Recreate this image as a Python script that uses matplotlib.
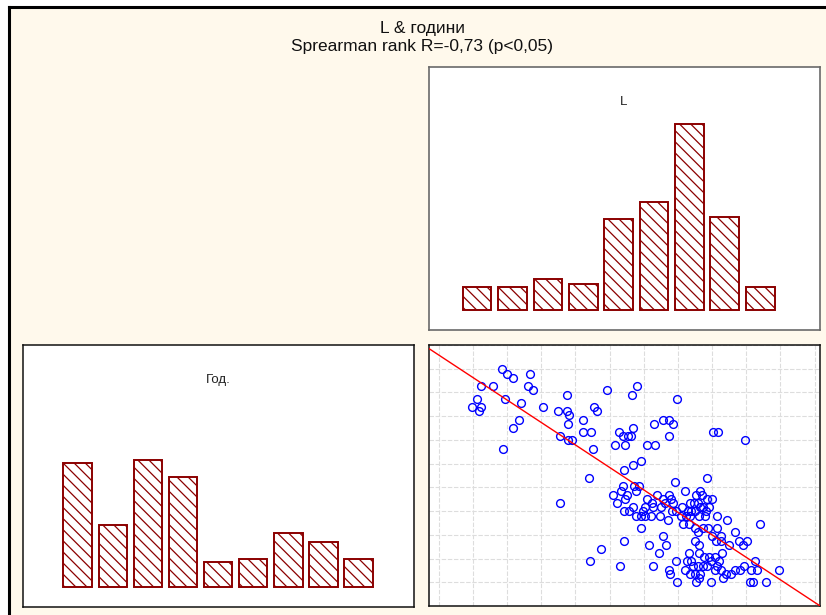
import numpy as np
import matplotlib
matplotlib.use("Agg")
import matplotlib.pyplot as plt
from matplotlib.lines import Line2D
from matplotlib.patches import Rectangle

plt.rcParams['font.family'] = ['Liberation Sans', 'DejaVu Sans']
plt.rcParams['hatch.linewidth'] = 0.9

# ---- data -------------------------------------------------------------
title_main = "L & години"
title_sub = "Sprearman rank R=-0,73 (p<0,05)"
label_L = "L"
label_years = "Год."

# histogram counts (9 bins each)
L_counts = [8, 8, 11, 9, 32, 38, 66, 33, 8]
years_counts = [44, 22, 45, 39, 9, 10, 19, 16, 10]

# paired observations: L value and age in years
L_values = [
    22.2, 23.8, 25.4, 30.6, 16.0, 19.6, 30.0, 31.6, 14.6, 23.0,
    13.2, 15.8, 15.2, 28.0, 34.4, 39.0, 41.8, 41.8, 42.2, 42.0,
    27.2, 25.4, 46.6, 49.8, 50.8, 53.6, 39.6, 42.0, 43.2, 46.6,
    48.8, 49.6, 22.5, 57.2, 58.6, 60.0, 60.8, 56.0, 59.2, 61.6,
    62.8, 61.2, 74.6, 67.8, 70.4, 72.2, 73.6, 72.4, 65.6, 68.0,
    85.6, 87.0, 95.0, 64.0, 61.4, 58.8, 48.4, 83.8, 74.2,
    39.6, 55.4, 56.6, 51.8, 48.6, 57.6, 58.4, 61.9, 63.3, 58.0,
    62.4, 59.6, 68.8, 72.4, 77.2, 80.4, 81.6, 82.2, 83.6, 85.2,
    59.0, 65.8, 70.4, 72.8, 67.2, 71.2, 73.6, 78.6, 79.8, 81.0,
    65.2, 67.6, 69.8, 76.2, 81.6, 82.6, 84.2, 61.4, 58.8, 60.2,
    64.4, 73.2, 74.4, 78.0, 79.0, 80.0, 83.4, 62.4, 63.8, 65.0,
    66.8, 69.6, 76.0, 77.4, 78.6, 81.4, 83.2, 86.6, 72.0, 89.8,
    76.6, 78.2, 99.6, 63.8, 80.0, 82.4, 84.0, 86.6, 81.0, 92.2,
    70.6, 85.2, 87.8, 58.8, 80.2, 86.4, 88.0, 93.4, 95.8, 66.4,
    71.4, 81.4, 90.2, 94.6, 69.2, 78.4, 81.4, 88.2, 82.8, 84.4,
    86.0, 74.4, 77.6, 78.8, 85.0, 87.2, 98.0, 67.4, 79.6, 81.0,
    82.4, 83.6, 86.6, 94.8, 72.2, 77.0, 86.0, 88.0, 92.0, 93.6,
    96.8, 98.6, 105.2, 72.6, 78.6, 80.0, 81.6, 89.4, 91.0, 81.2,
    88.4, 74.6, 80.4, 84.8, 96.6, 97.4, 101.4,
]
years_values = [
    69, 68, 67, 68, 65, 65, 65, 64, 62, 62,
    60, 60, 59, 61, 60, 59, 63, 59, 58, 56,
    57, 55, 57, 60, 59, 64, 53, 52, 52, 54,
    54, 50, 50, 54, 53, 53, 53, 51, 51, 55,
    65, 63, 62, 56, 57, 57, 56, 53, 51, 51,
    54, 54, 52, 47, 46, 45, 43, 43, 42,
    37, 39, 37, 26, 23, 22, 41, 41, 41, 40,
    40, 39, 39, 39, 40, 39, 40, 39, 38, 38,
    38, 38, 38, 38, 37, 37, 37, 37, 37, 37,
    36, 36, 36, 36, 36, 36, 36, 36, 35, 35,
    35, 35, 35, 35, 35, 35, 35, 34, 34, 34,
    34, 34, 34, 34, 34, 34, 34, 34, 33, 33,
    32, 32, 32, 31, 31, 31, 31, 31, 30, 30,
    29, 29, 29, 28, 28, 28, 28, 28, 28, 27,
    27, 27, 27, 27, 25, 25, 25, 25, 24, 24,
    24, 23, 23, 23, 23, 23, 23, 22, 22, 22,
    22, 22, 22, 22, 21, 21, 21, 21, 21, 21,
    21, 21, 21, 20, 20, 20, 20, 20, 20, 19,
    19, 18, 18, 18, 18, 18, 18,
]

# ---- figure -----------------------------------------------------------
W, H = 826, 615
fig = plt.figure(figsize=(W / 100, H / 100), dpi=100, facecolor='white')

def box(x0, y0, x1, y1):
    """Pixel box (top-left origin) -> figure fraction rect."""
    return [x0 / W, 1 - y1 / H, (x1 - x0) / W, (y1 - y0) / H]

cream = '#FFF9EC'
fig.patches.append(Rectangle((9 / W, 0), 1, 1 - 7 / H, transform=fig.transFigure,
                             facecolor=cream, edgecolor='none', zorder=-10))
fig.lines.append(Line2D([9 / W, 1], [1 - 7 / H, 1 - 7 / H], transform=fig.transFigure,
                        color='black', lw=2.2, zorder=-5))
fig.lines.append(Line2D([9 / W, 9 / W], [0, 1 - 7 / H], transform=fig.transFigure,
                        color='black', lw=2.2, zorder=-5))

fig.text(422 / W, 1 - 28 / H, title_main, ha='center', va='center', fontsize=12.5,
         color='#111111')
fig.text(422 / W, 1 - 47 / H, title_sub, ha='center', va='center', fontsize=12.5,
         color='#111111')

bar_color = '#8B0000'

def histogram(ax, counts, xlim, label, label_xy):
    pos = np.arange(len(counts))
    ax.bar(pos, counts, width=0.81, color='white', edgecolor=bar_color,
           hatch='\\\\\\', linewidth=1.4)
    ax.set_xlim(*xlim)
    ax.set_ylim(-7.1, 86.1)
    ax.set_xticks([])
    ax.set_yticks([])
    ax.set_facecolor('white')
    ax.text(*label_xy, label, transform=ax.transAxes, ha='center', va='center',
            fontsize=9.5, color='#222222')

# L histogram (top right)
ax_L = fig.add_axes(box(428.5, 67, 820, 329.5))
histogram(ax_L, L_counts, (-1.374, 9.69), label_L,
          ((624 - 428.5) / 391.5, 1 - (102 - 67) / 262.5))
for s in ax_L.spines.values():
    s.set_color('#6A6A6A'); s.set_linewidth(1.2)

# years histogram (bottom left)
ax_Y = fig.add_axes(box(22.5, 344.5, 414, 607))
histogram(ax_Y, years_counts, (-1.573, 9.58), label_years,
          ((218 - 22.5) / 391.5, 1 - (379.5 - 344.5) / 262.5))
for s in ax_Y.spines.values():
    s.set_color('#111111'); s.set_linewidth(1.1)

# scatter (bottom right)
ax_S = fig.add_axes(box(428.5, 345, 820, 606))
ax_S.set_facecolor('white')
xlo, xhi = 0.15, 117.6
ylo, yhi = 12.33, 74.87
ax_S.set_xlim(xlo, xhi)
ax_S.set_ylim(ylo, yhi)
ax_S.set_xticks(np.arange(3.2, xhi, 10.25))
ax_S.set_yticks(np.linspace(ylo, yhi, 12))
ax_S.tick_params(length=0, labelbottom=False, labelleft=False)
ax_S.grid(True, color='#DDDDDD', lw=0.8, ls=(0, (4, 1.5)))
ax_S.set_axisbelow(True)

L_arr = np.asarray(L_values)
Y_arr = np.asarray(years_values)
ax_S.plot(L_arr, Y_arr, 'o', ls='none', mfc='none', mec='#0000FF', ms=5.6, mew=1.0,
          zorder=3)
slope, intercept = np.polyfit(L_arr, Y_arr, 1)
xs = np.array([xlo, xhi])
ax_S.plot(xs, intercept + slope * xs, color='#FF0000', lw=1.0, zorder=4)
for s in ax_S.spines.values():
    s.set_color('#111111'); s.set_linewidth(1.1)

fig.savefig('out.png', dpi=100, facecolor=fig.get_facecolor())
